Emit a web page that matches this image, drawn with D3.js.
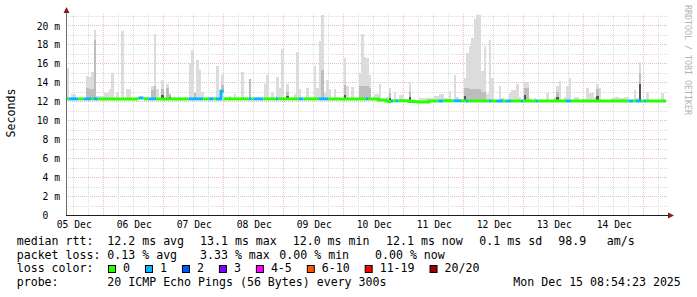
<!DOCTYPE html>
<html>
<head>
<meta charset="utf-8">
<script src="https://cdn.jsdelivr.net/npm/d3@7/dist/d3.min.js"></script>
<style>
html, body { margin: 0; padding: 0; background: #fff; }
svg { display: block; }
text { font-family: "DejaVu Sans Mono", monospace; }
</style>
</head>
<body>
<svg id="chart" width="697" height="297"></svg>
<script>
// 10 days of hourly bins ending at the graph time
const startTime = Date.UTC(2025, 11, 5, 8, 54, 23);
const endTime = Date.UTC(2025, 11, 15, 8, 54, 23);
const yTicks = [0, 2, 4, 6, 8, 10, 12, 14, 16, 18, 20];

// median rtt, run-length: first hour bin of run, median (ms), pings lost
const medianBin  = [0, 1, 5, 7, 10, 11, 13, 29, 31, 33, 36, 49, 55, 57, 59, 60, 62, 63, 73, 74, 75, 79, 84, 85, 93, 95, 101, 105, 120, 121, 125, 128, 129, 130, 131, 132, 133, 137, 139, 141, 145, 149, 151, 155, 158, 160, 161, 169, 170, 172, 175, 176, 178, 182, 183, 188, 189, 200, 202, 225, 227, 228, 230, 231, 232];
const medianMs   = [12.3, 12.3, 12.3, 12.3, 12.3, 12.3, 12.3, 12.4, 12.3, 12.3, 12.3, 12.3, 12.3, 12.3, 12.3, 12.3, 13.1, 12.3, 12.3, 12.3, 12.3, 12.3, 12.3, 12.3, 12.3, 12.3, 12.3, 12.3, 12.3, 12.3, 12.18, 12.08, 12.0, 12.08, 12.1, 12.1, 12.1, 12.05, 12.0, 11.98, 12.08, 12.08, 12.1, 12.1, 12.1, 12.08, 12.08, 12.08, 12.08, 12.08, 12.08, 12.08, 12.08, 12.08, 12.08, 12.08, 12.08, 12.08, 12.08, 12.08, 12.08, 12.08, 12.08, 12.08, 12.08];
const medianLoss = [0, 1, 0, 1, 0, 1, 0, 1, 0, 1, 0, 1, 0, 1, 0, 1, 1, 0, 1, 0, 1, 0, 1, 0, 1, 0, 1, 0, 1, 0, 0, 0, 0, 1, 0, 1, 0, 0, 0, 0, 0, 1, 0, 1, 0, 1, 0, 1, 0, 1, 0, 1, 0, 1, 0, 1, 0, 1, 0, 1, 0, 1, 0, 1, 0];

// smoke per hour bin: [bin, highest ping ms, upper band ms, dense core ms] (0 = none)
const smoke = [
  [0, 15.6, 0, 0], [2, 12.8, 0, 0], [3, 12.8, 0, 0],
  [8, 14.7, 13.5, 0], [9, 14.6, 13.3, 0], [10, 15.1, 13.3, 0], [11, 19.6, 18.5, 0],
  [12, 12.6, 0, 0], [13, 12.6, 0, 0], [14, 12.6, 0, 0], [15, 12.9, 0, 0], [16, 12.9, 0, 0], [17, 13.3, 0, 0],
  [18, 15.0, 0, 0], [20, 13.0, 0, 0], [22, 19.5, 0, 0], [24, 13.3, 0, 0], [25, 13.3, 0, 0],
  [28, 12.5, 0, 0], [31, 12.5, 0, 0], [32, 12.5, 0, 0],
  [34, 13.7, 13.2, 0], [35, 19.2, 13.7, 0], [36, 13.3, 0, 0], [38, 14.3, 13.3, 12.7], [40, 13.85, 13.5, 0], [41, 12.8, 12.8, 12.5],
  [43, 12.5, 0, 0], [45, 12.5, 0, 0], [47, 12.5, 0, 0],
  [49, 16.1, 0, 0], [50, 17.5, 0, 0], [51, 13.0, 12.9, 0], [52, 16.4, 0, 0], [53, 15.35, 0, 0], [54, 13.0, 0, 0],
  [57, 12.5, 0, 0], [58, 12.5, 0, 0],
  [60, 15.8, 0, 0], [62, 14.8, 13.8, 12.9], [65, 12.6, 0, 0], [67, 12.8, 0, 0], [70, 15.1, 0, 0], [73, 14.4, 14.4, 0], [76, 12.5, 0, 0],
  [79, 13.9, 0, 0], [80, 14.8, 0, 0], [82, 12.9, 0, 0], [84, 14.65, 0, 0], [85, 13.4, 0, 0], [86, 17.6, 0, 0], [88, 13.9, 13.0, 12.6], [91, 12.8, 0, 0],
  [92, 17.2, 0, 0], [93, 13.3, 0, 0], [96, 13.5, 0, 0], [99, 15.8, 0, 0], [100, 13.4, 0, 0], [101, 18.4, 0, 0], [102, 21.2, 15.35, 0], [103, 12.9, 0, 0],
  [104, 14.3, 0, 0], [105, 13.3, 0, 0], [107, 13.3, 0, 0], [111, 16.6, 13.8, 12.7], [112, 13.7, 0, 0], [114, 13.6, 0, 0],
  [117, 15.0, 13.7, 0], [118, 19.2, 13.7, 0], [119, 16.7, 13.7, 0], [120, 16.6, 13.7, 0], [121, 14.8, 13.5, 0],
  [123, 12.8, 0, 0], [124, 12.8, 0, 0], [125, 13.85, 0, 0], [128, 12.5, 0, 0], [129, 13.5, 12.9, 12.4], [131, 13.0, 0, 0],
  [133, 12.7, 0, 0], [134, 12.7, 0, 0], [137, 14.05, 13.0, 12.5],
  [141, 12.4, 0, 0], [142, 12.4, 0, 0], [143, 12.4, 0, 0], [144, 12.35, 0, 0], [145, 12.35, 0, 0], [146, 12.35, 0, 0],
  [147, 12.6, 0, 0], [148, 12.6, 0, 0], [149, 12.8, 0, 0], [150, 12.8, 0, 0], [151, 12.4, 0, 0], [152, 12.4, 0, 0], [153, 13.1, 0, 0],
  [155, 14.8, 0, 0], [156, 12.5, 0, 0], [159, 14.5, 13.5, 12.6], [160, 17.1, 13.4, 0], [161, 17.9, 13.3, 0], [162, 18.7, 13.3, 0],
  [163, 20.7, 13.3, 0], [164, 21.2, 13.3, 0], [165, 21.2, 13.3, 0], [166, 15.2, 13.0, 0], [167, 17.9, 13.0, 0], [168, 12.8, 0, 0],
  [169, 18.5, 0, 0], [170, 14.5, 0, 0], [173, 13.7, 0, 0], [174, 12.4, 0, 0], [177, 12.9, 0, 0], [178, 13.2, 0, 0], [179, 13.2, 0, 0],
  [180, 13.85, 0, 0], [181, 12.5, 0, 0], [183, 14.1, 13.4, 12.7], [184, 14.1, 13.4, 0], [185, 12.4, 0, 0], [187, 12.4, 0, 0],
  [192, 12.9, 0, 0], [195, 12.5, 0, 0], [196, 13.7, 13.0, 12.5], [197, 14.2, 0, 0], [199, 12.5, 0, 0], [200, 13.7, 0, 0], [201, 14.5, 0, 0],
  [203, 12.5, 0, 0], [204, 12.5, 0, 0], [206, 12.3, 0, 0], [207, 12.3, 0, 0], [208, 13.4, 0, 0], [209, 12.9, 0, 0], [210, 12.9, 0, 0],
  [211, 12.5, 0, 0], [212, 13.85, 13.3, 12.6], [213, 13.4, 0, 0], [218, 12.4, 0, 0], [219, 12.5, 0, 0], [220, 12.5, 0, 0],
  [221, 12.4, 0, 0], [222, 12.4, 0, 0], [223, 12.5, 0, 0], [224, 12.5, 0, 0], [227, 13.2, 0, 0], [228, 12.4, 0, 0],
  [229, 16.2, 15.0, 13.9], [232, 13.0, 0, 0], [238, 12.9, 0, 0]
];

const lossLabels = ["0", "1", "2", "3", "4-5", "6-10", "11-19", "20/20"];
const lossColors = ["#26ff00", "#00b8ff", "#0059ff", "#7e00ff", "#ff00ff", "#ff5500", "#ff0000", "#a00000"];

const rttStats = ["12.2 ms avg", "13.1 ms max", "12.0 ms min", "12.1 ms now", "0.1 ms sd", "98.9", "am/s"];
const lossStats = ["0.13 % avg", "3.33 % max", "0.00 % min", "0.00 % now"];
const probeText = "20 ICMP Echo Pings (56 Bytes) every 300s";
const stampText = "Mon Dec 15 08:54:23 2025";

// ---- layout
const svg = d3.select("#chart");
const plotLeft = 66, plotRight = 666, plotTop = 15.5, plotBottom = 215.5;
const hour = 3600 * 1000;
const crisp = v => Math.floor(v) + 0.5;

const x = d3.scaleUtc().domain([startTime, endTime]).range([plotLeft, plotRight]);
const y = d3.scaleLinear().domain([0, 21.1]).range([plotBottom, plotTop]);
const binX = k => x(startTime + k * hour);

// ---- grid
const minorCol = "#dcdcdc", majorCol = "#ecbcbc";
const grid = svg.append("g").attr("stroke-dasharray", "1,1").attr("shape-rendering", "crispEdges");
const minorY = d3.range(1, 22, 2);
grid.selectAll(".hmin").data(minorY).join("line")
    .attr("x1", plotLeft).attr("x2", plotRight + 1)
    .attr("y1", d => crisp(y(d))).attr("y2", d => crisp(y(d)))
    .attr("stroke", minorCol);
grid.selectAll(".hmaj").data(yTicks.slice(1)).join("line")
    .attr("x1", plotLeft).attr("x2", plotRight + 1)
    .attr("y1", d => crisp(y(d))).attr("y2", d => crisp(y(d)))
    .attr("stroke", majorCol);

const sixHours = d3.utcHour.every(6).range(startTime, endTime).filter(d => d.getUTCHours() !== 0);
const midnights = d3.utcDay.range(startTime, endTime);
grid.selectAll(".vmin").data(sixHours).join("line")
    .attr("x1", d => crisp(x(d))).attr("x2", d => crisp(x(d)))
    .attr("y1", plotTop - 2).attr("y2", plotBottom)
    .attr("stroke", minorCol);
grid.selectAll(".vmaj").data(midnights).join("line")
    .attr("x1", d => crisp(x(d))).attr("x2", d => crisp(x(d)))
    .attr("y1", plotTop - 2).attr("y2", plotBottom)
    .attr("stroke", majorCol);

// ---- median per bin (expanded from the runs)
const medianAt = [];
medianBin.forEach((b, i) => {
    const end = i + 1 < medianBin.length ? medianBin[i + 1] : 240;
    for (let k = b; k < end; k++) medianAt[k] = {k, ms: medianMs[i], loss: medianLoss[i]};
});

// ---- smoke
const smokeG = svg.append("g").attr("shape-rendering", "crispEdges");
const band = (cls, idx, color) => smokeG.selectAll("." + cls)
    .data(smoke.filter(d => d[idx] > 0))
    .join("rect")
    .attr("class", cls)
    .attr("x", d => binX(d[0]))
    .attr("width", d => binX(d[0] + 1) - binX(d[0]))
    .attr("y", d => y(d[idx]))
    .attr("height", d => y(medianAt[d[0]].ms - 0.15) - y(d[idx]))
    .attr("fill", color);
band("light", 1, "#dcdcdc");
band("mid", 2, "#bdbdbd");
band("dark", 3, "#555555");

// ---- median line coloured by loss
const lineGen = d3.line()
    .x(d => binX(d.k))
    .y(d => y(d.ms))
    .curve(d3.curveStepAfter);
const runs = [];
medianAt.forEach(d => {
    const last = runs[runs.length - 1];
    if (last && last.loss === d.loss) last.pts.push(d);
    else runs.push({loss: d.loss, pts: [d]});
});
runs.forEach(r => {
    const lastPt = r.pts[r.pts.length - 1];
    const pts = r.pts.concat([{k: lastPt.k + 1, ms: lastPt.ms}]);
    svg.append("path")
        .attr("d", lineGen(pts))
        .attr("fill", "none")
        .attr("stroke", lossColors[r.loss])
        .attr("stroke-width", 3);
});

// ---- axes
const axisCol = "#1f1f1f", arrowCol = "#801f1f";
svg.append("line").attr("x1", plotLeft + 0.5).attr("x2", plotLeft + 0.5).attr("y1", plotBottom).attr("y2", 11)
    .attr("stroke", "#6a6a6a");
svg.append("line").attr("x1", plotLeft).attr("x2", 670).attr("y1", plotBottom).attr("y2", plotBottom)
    .attr("stroke", axisCol);
svg.append("path").attr("d", "M63.5,13L69.5,13L66.5,7Z").attr("fill", arrowCol);
svg.append("path").attr("d", "M668,212.5L668,218.5L674,215.5Z").attr("fill", arrowCol);

const yAxis = svg.append("g")
    .attr("transform", `translate(${plotLeft},0)`)
    .call(d3.axisLeft(y).tickValues(yTicks).tickSize(0).tickPadding(6)
        .tickFormat(d => d === 0 ? "0\u00a0\u00a0" : d + "\u00a0m"));
yAxis.select(".domain").remove();
yAxis.selectAll("text").attr("font-family", "DejaVu Sans Mono").attr("font-size", "9.7px").attr("fill", "#000");

const noons = d3.utcDay.range(Date.UTC(2025, 11, 5), Date.UTC(2025, 11, 15)).map(d => new Date(+d + 12 * hour));
const xAxis = svg.append("g")
    .attr("transform", `translate(0,${plotBottom})`)
    .call(d3.axisBottom(x).tickValues(noons).tickSize(0).tickPadding(5.6)
        .tickFormat(d3.utcFormat("%d %b")));
xAxis.select(".domain").remove();
xAxis.selectAll("text").attr("font-family", "DejaVu Sans Mono").attr("font-size", "9.7px").attr("fill", "#000");

// unit label and watermark
svg.append("text").attr("transform", "translate(15,113) rotate(-90)")
    .attr("text-anchor", "middle").attr("font-size", "11.6px").text("Seconds");
svg.append("text").attr("transform", "translate(684.5,5) rotate(90)")
    .attr("font-size", "8.3px").attr("fill", "#b3b3b3").text("RRDTOOL / TOBI OETIKER");

// ---- legend
const legend = svg.append("g").attr("font-size", "11.6px").attr("fill", "#000");
const rowY = [245, 258.7, 272.4, 286];
const put = (s, xx, row) => legend.append("text").attr("x", xx).attr("y", rowY[row]).text(s);

put("median rtt:", 16.7, 0);
[107.3, 200, 292.7, 386, 479.3, 558.3, 606.7].forEach((xx, i) => put(rttStats[i], xx, 0));
put("packet loss:", 16.7, 1);
[107.3, 200, 279.3, 375].forEach((xx, i) => put(lossStats[i], xx, 1));
put("loss color:", 16.7, 2);
let sx = 108;
lossLabels.forEach((lab, i) => {
    legend.append("rect").attr("x", sx + 0.5).attr("y", 265.5).attr("width", 7).attr("height", 7)
        .attr("fill", lossColors[i]).attr("stroke", "#000");
    put(lab, sx + 15, 2);
    sx += 30 + 6.97 * lab.length;
});
put("probe:", 16.7, 3);
put(probeText, 107.3, 3);
put(stampText, 513.3, 3);
</script>
</body>
</html>
